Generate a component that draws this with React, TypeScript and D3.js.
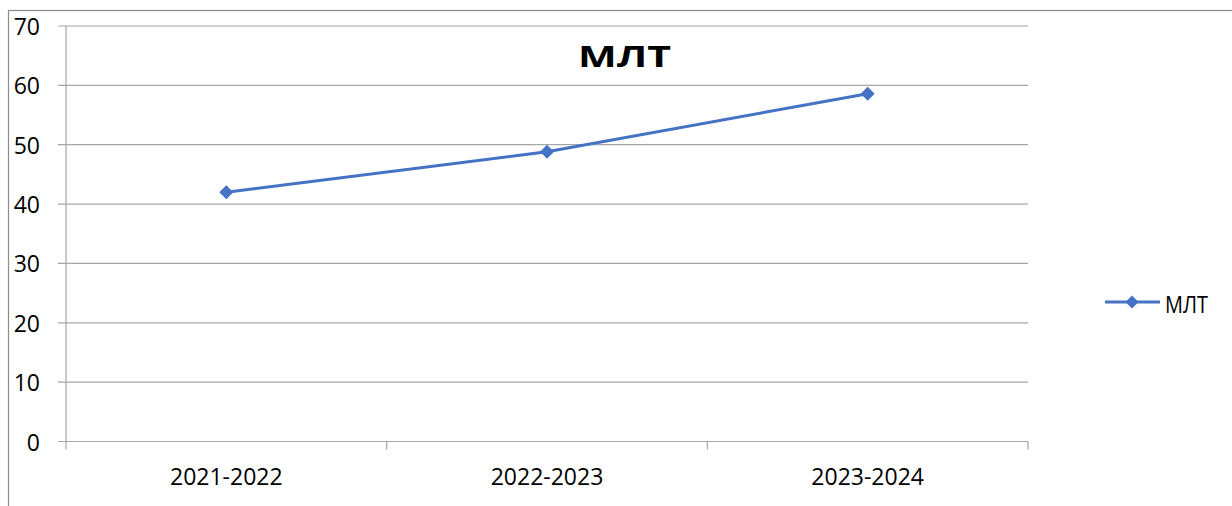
import React from "react";
import * as d3 from "d3";

const categories = ["2021-2022", "2022-2023", "2023-2024"];
const values = [42.0, 48.8, 58.6];
const yTicks = [0, 10, 20, 30, 40, 50, 60, 70];
const seriesName = "МЛТ";

const WIDTH = 1232;
const HEIGHT = 506;
const LEFT = 66;
const RIGHT = 1028;
const TOP = 26;
const BOTTOM = 441.5;
const BLUE = "#4472C4";
const GRID = "#a6a6a6";
const FONT = "'Open Sans', 'Noto Sans', sans-serif";

const Diamond = ({ x, y, r }: { x: number; y: number; r: number }) => (
  <path d={`M${x},${y - r}L${x + r},${y}L${x},${y + r}L${x - r},${y}Z`} fill={BLUE} />
);

export const App = () => {
  const xScale = d3.scaleBand().domain(categories).range([LEFT, RIGHT]);
  const yScale = d3.scaleLinear().domain([0, 70]).range([BOTTOM, TOP]);

  const line = d3
    .line<number>()
    .x((_, i) => (xScale(categories[i]) ?? 0) + xScale.bandwidth() / 2)
    .y((d) => yScale(d));

  const boundaries = [...categories.map((c) => xScale(c) ?? 0), RIGHT];

  return (
    <svg
      width={WIDTH}
      height={HEIGHT}
      style={{ position: "absolute", left: 0, top: 0, background: "#fff" }}
    >
      <rect x={8.5} y={10.5} width={1300} height={600} fill="#fff" stroke="#8c8c8c" strokeWidth={1.2} />

      {/* grid */}
      {yTicks.map((t) => (
        <g key={t}>
          <line x1={LEFT - 8} x2={RIGHT} y1={yScale(t)} y2={yScale(t)} stroke={GRID} strokeWidth={1.2} />
          <text
            x={40}
            y={yScale(t)}
            textAnchor="end"
            dominantBaseline="central"
            fontFamily={FONT}
            fontSize={23}
            fill="#000"
          >
            {t}
          </text>
        </g>
      ))}
      <line x1={LEFT} x2={LEFT} y1={TOP} y2={BOTTOM} stroke={GRID} strokeWidth={1.2} />
      {boundaries.map((b, i) => (
        <line key={i} x1={b} x2={b} y1={BOTTOM} y2={BOTTOM + 8} stroke={GRID} strokeWidth={1.2} />
      ))}
      {categories.map((c) => (
        <text
          key={c}
          x={(xScale(c) ?? 0) + xScale.bandwidth() / 2}
          y={485}
          textAnchor="middle"
          fontFamily={FONT}
          fontSize={23}
          fill="#000"
        >
          {c}
        </text>
      ))}

      {/* series */}
      <path d={line(values) ?? ""} fill="none" stroke={BLUE} strokeWidth={3} />
      {values.map((v, i) => (
        <Diamond key={i} x={(xScale(categories[i]) ?? 0) + xScale.bandwidth() / 2} y={yScale(v)} r={7} />
      ))}

      {/* title */}
      <text
        x={578}
        y={67}
        fontFamily={FONT}
        fontSize={28}
        fontWeight="bold"
        fill="#000"
        textLength={93}
        lengthAdjust="spacingAndGlyphs"
      >
        {seriesName}
      </text>

      {/* legend */}
      <line x1={1105} x2={1160} y1={302} y2={302} stroke={BLUE} strokeWidth={3} />
      <Diamond x={1132} y={302} r={6.5} />
      <text
        x={1165}
        y={313}
        fontFamily={FONT}
        fontSize={23}
        fill="#000"
        textLength={43}
        lengthAdjust="spacingAndGlyphs"
      >
        {seriesName}
      </text>
    </svg>
  );
};

export default App;
